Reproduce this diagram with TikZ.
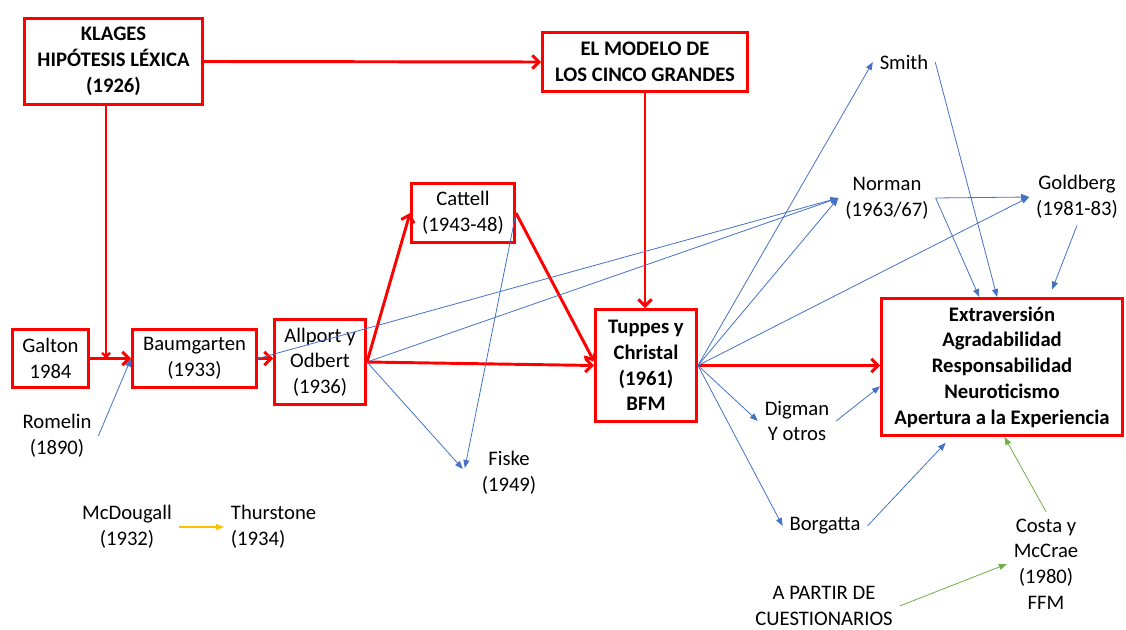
\documentclass[tikz,border=0pt]{standalone}
\usepackage{fontspec}
\setmainfont{Carlito}
\usetikzlibrary{arrows.meta}
\definecolor{rd}{HTML}{FF0000}
\definecolor{bl}{HTML}{4472C4}
\definecolor{gr}{HTML}{70AD47}
\definecolor{og}{HTML}{FFC000}
\newcommand\fsz{\fontsize{15.5}{19.3}\selectfont}
\begin{document}
\begin{tikzpicture}[x=0.75pt,y=-0.75pt,
  rbox/.style={draw=rd, line width=2.2pt, align=center, inner sep=0pt, font=\fsz},
  rboxb/.style={rbox, font=\fsz\bfseries},
  txt/.style={align=center, inner sep=5pt, font=\fsz},
  rarr/.style={draw=rd, line width=2.2pt, -{Straight Barb[length=5pt,width=10pt]}},
  rarrs/.style={draw=rd, line width=1.8pt, -{Straight Barb[length=3pt,width=6pt]}},
  barr/.style={draw=bl, line width=0.6pt, -{Triangle[length=6pt,width=4.5pt]}},
  garr/.style={draw=gr, line width=0.6pt, -{Triangle[length=6pt,width=4.5pt]}},
  oarr/.style={draw=og, line width=0.8pt, -{Triangle[length=6pt,width=4.5pt]}}
]
\useasboundingbox (0,0) rectangle (1126,630);
\clip (0,0) rectangle (1126,630);

% red boxes
\node[rboxb, minimum width=133.5pt, minimum height=64.5pt] (klages) at (113.5,61.5) {KLAGES\\HIPÓTESIS LÉXICA\\(1926)};
\node[rboxb, minimum width=153.75pt, minimum height=44.25pt] (modelo) at (645,62) {EL MODELO DE\\LOS CINCO GRANDES};
\node[rbox, minimum width=77.25pt, minimum height=44.25pt] (cattell) at (463,213) {Cattell\\(1943-48)};
\node[rbox, minimum width=57pt, minimum height=43.5pt] (galton) at (50.5,358.5) {Galton\\1984};
\node[rbox, minimum width=93pt, minimum height=43.5pt] (baum) at (194.5,358.5) {Baumgarten\\(1933)};
\node[rbox, minimum width=68.25pt, minimum height=63.75pt] (allp) at (320,362) {Allport y\\Odbert\\(1936)};
\node[rboxb, minimum width=75.75pt, minimum height=84pt] (tup) at (646,365.5) {Tuppes y\\Christal\\(1961)\\BFM};
\node[rboxb, minimum width=180.75pt, minimum height=102.75pt] (big) at (1002,367) {Extraversión\\Agradabilidad\\Responsabilidad\\Neuroticismo\\Apertura a la Experiencia};

% plain texts
\node[txt] (smith) at (904,62) {Smith};
\node[txt] (norman) at (887,198) {Norman\\(1963/67)};
\node[txt] (goldberg) at (1077,197) {Goldberg\\(1981-83)};
\node[txt] (digman) at (797,421) {Digman\\Y otros};
\node[txt] (borgatta) at (825,526) {Borgatta};
\node[txt] (costa) at (1046,564) {Costa y\\McCrae\\(1980)\\FFM};
\node[txt] (apartir) at (824,606) {A PARTIR DE\\CUESTIONARIOS};
\node[txt] (romelin) at (57,436) {Romelin\\(1890)};
\node[txt] (fiske) at (509,473) {Fiske\\(1949)};
\node[txt] (mcd) at (127,527) {McDougall\\(1932)};
\node[txt, align=left, anchor=west] (thur) at (224,527) {Thurstone\\(1934)};

% red connectors
\coordinate (kd) at (106,358.5);
\draw[rarr] (klages.east) -- (modelo.west);
\draw[rarrs] (kd |- klages.south) -- (kd);
\draw[rarr] (galton.east) -- (baum.west);
\draw[rarr] (baum.east) -- (allp.west |- baum.east);
\draw[rarr] (allp.east) -- (cattell.west);
\draw[rarr] (allp.east) -- (tup.west);
\draw[rarr] (cattell.east) -- ([yshift=3pt]tup.west);
\draw[rarr] (modelo.south) -- (modelo.south |- tup.north);
\draw[rarr] (tup.east) -- (tup.east -| big.west);

% blue connectors
\draw[barr] (baum.east) -- (norman.west);
\draw[barr] (allp.east) -- (norman.west);
\draw[barr] (allp.east) -- ([shift={(-12,-4)}]fiske.west);
\draw[barr] (cattell.east) -- ([shift={(-10,-5)}]fiske.west);
\draw[barr] (romelin.east) -- (baum.west);
\draw[barr] (tup.east) -- (smith.west);
\draw[barr] (tup.east) -- (norman.west);
\draw[barr] (tup.east) -- (goldberg.west);
\draw[barr] (tup.east) -- (digman.west);
\draw[barr] (tup.east) -- (borgatta.west);
\draw[barr] (norman.east) -- (goldberg.west);
\draw[barr] (norman.east) -- (big.108);
\draw[barr] (smith.east) -- (big.94);
\draw[barr, shorten >=6pt] (goldberg.south) -- (big.56);
\draw[barr] (digman.east) -- (big.189);
\draw[barr, shorten >=6pt] (borgatta.east) -- (big.234);

% green / orange
\draw[garr] (costa.north) -- (big.272);
\draw[garr] (apartir.east) -- (costa.west);
\draw[oarr] (mcd.east) -- (thur.west);
\end{tikzpicture}
\end{document}
